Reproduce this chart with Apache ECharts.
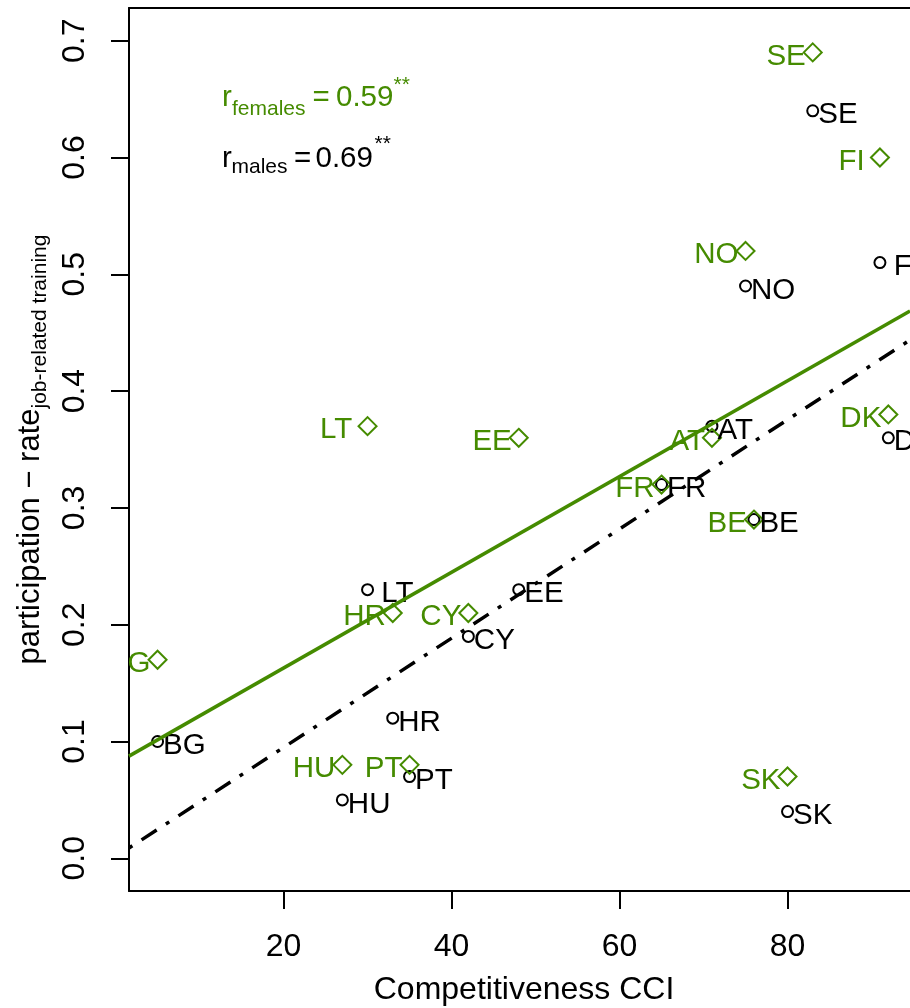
<!DOCTYPE html>
<html>
<head>
<meta charset="utf-8">
<script src="https://cdn.jsdelivr.net/npm/echarts@6/dist/echarts.min.js"></script>
<style>
html,body{margin:0;padding:0;background:#fff}
#c{width:910px;height:1008px}
</style>
</head>
<body>
<div id="c"></div>
<script>
// ---- data ----
const countries = ['SE', ' FI ', 'NO', 'AT', 'DK', 'FR', 'BE', ' LT ', 'EE', 'CY', 'HR', 'BG', 'HU', 'PT', 'SK'];
const cci       = [83, 91, 75, 71, 92, 65, 76, 30, 48, 42, 33, 5, 27, 35, 80];
const males     = [0.64, 0.51, 0.49, 0.37, 0.36, 0.32, 0.29, 0.23, 0.23, 0.19, 0.12, 0.10, 0.05, 0.07, 0.04];
const females   = [0.69, 0.60, 0.52, 0.36, 0.38, 0.32, 0.29, 0.37, 0.36, 0.21, 0.21, 0.17, 0.08, 0.08, 0.07];
const xTicks = [20, 40, 60, 80];
const yTicks = [0.0, 0.1, 0.2, 0.3, 0.4, 0.5, 0.6, 0.7];
const xRange = [1.6, 94.58];
const yRange = [-0.028, 0.728];
const rFemales = '0.59';
const rMales = '0.69';

const GREEN = '#458B00';
const FONT = '"Liberation Sans", Arial, Helvetica, sans-serif';
const FS = 29.5;   // point labels / annotations
const FA = 32;     // axis text

function ols(xs, ys) {
  const n = xs.length;
  let mx = 0, my = 0;
  for (let i = 0; i < n; i++) { mx += xs[i]; my += ys[i]; }
  mx /= n; my /= n;
  let sxy = 0, sxx = 0;
  for (let i = 0; i < n; i++) { sxy += (xs[i] - mx) * (ys[i] - my); sxx += (xs[i] - mx) * (xs[i] - mx); }
  const b = sxy / sxx;
  return [my - b * mx, b];
}
function fitLine(ys) {
  const [a, b] = ols(cci, ys);
  return xRange.map(x => [x, a + b * x]);
}

function textWidth(t, size) {
  const ctx = document.createElement('canvas').getContext('2d');
  ctx.font = size + 'px ' + FONT;
  return ctx.measureText(t).width;
}

const mainLab = 'participation \u2212 rate';
const subLab = 'job-related training';
const FY = 31, FYS = 21;
const w1 = textWidth(mainLab, FY);
const w2 = textWidth(subLab, FYS);
const yStart = 449.5 + (w1 + w2) / 2;

const chart = echarts.init(document.getElementById('c'), null, {renderer: 'canvas'});
chart.setOption({
  animation: false,
  backgroundColor: '#fff',
  grid: {left: 129, right: 0, top: 8, bottom: 117, outerBoundsMode: 'none'},
  xAxis: [{
    type: 'value', min: xRange[0], max: xRange[1],
    splitLine: {show: false},
    axisLine: {show: true, onZero: false, lineStyle: {color: '#000', width: 2}},
    axisTick: {show: true, length: 18, customValues: xTicks, lineStyle: {color: '#000', width: 2}},
    axisLabel: {show: true, customValues: xTicks, margin: 40, color: '#000', fontSize: FA, fontFamily: FONT,
      formatter: v => String(v)}
  }, {
    type: 'value', position: 'top', min: xRange[0], max: xRange[1],
    splitLine: {show: false},
    axisLine: {show: true, onZero: false, lineStyle: {color: '#000', width: 2}},
    axisTick: {show: false}, axisLabel: {show: false}
  }],
  yAxis: {
    type: 'value', min: yRange[0], max: yRange[1],
    splitLine: {show: false},
    axisLine: {show: true, onZero: false, lineStyle: {color: '#000', width: 2}},
    axisTick: {show: true, length: 18, customValues: yTicks, lineStyle: {color: '#000', width: 2}},
    axisLabel: {show: true, customValues: yTicks, rotate: 90, margin: 38, color: '#000', fontSize: FA, fontFamily: FONT,
      formatter: v => v.toFixed(1)}
  },
  series: [
    {
      type: 'scatter', name: 'males', silent: true,
      data: cci.map((x, i) => ({value: [x, males[i]], name: countries[i]})),
      symbol: 'circle', symbolSize: 11,
      itemStyle: {color: 'rgba(0,0,0,0)', borderColor: '#000', borderWidth: 2, opacity: 1},
      label: {show: true, position: 'right', distance: 0, offset: [-1, 4.5], formatter: p => p.name,
        color: '#000', opacity: 1, fontSize: FS, fontFamily: FONT},
      z: 3
    },
    {
      type: 'scatter', name: 'females', silent: true,
      data: cci.map((x, i) => ({value: [x, females[i]], name: countries[i]})),
      symbol: 'diamond', symbolSize: 18,
      itemStyle: {color: 'rgba(0,0,0,0)', borderColor: GREEN, borderWidth: 2, opacity: 1},
      label: {show: true, position: 'left', distance: 0, offset: [3, 4.2], formatter: p => p.name,
        color: GREEN, opacity: 1, fontSize: FS, fontFamily: FONT},
      z: 3
    },
    {
      type: 'line', name: 'fit females', silent: true, showSymbol: false, symbol: 'none',
      data: fitLine(females),
      lineStyle: {color: GREEN, width: 3.5, type: 'solid'},
      z: 4
    },
    {
      type: 'line', name: 'fit males', silent: true, showSymbol: false, symbol: 'none',
      data: fitLine(males),
      lineStyle: {color: '#000', width: 3.5, type: [4, 11, 18, 11], cap: 'butt'},
      z: 4
    }
  ],
  graphic: [
    // mask to clip a label outside the plot region
    {type: 'rect', z: 100, shape: {x: 90, y: 644, width: 37.5, height: 32}, style: {fill: '#fff'}},
    // y-axis title
    {type: 'text', z: 100, x: 30, y: yStart, rotation: Math.PI / 2,
      style: {text: mainLab, font: FY + 'px ' + FONT, fill: '#000', align: 'left', verticalAlign: 'middle'}},
    {type: 'text', z: 100, x: 40, y: yStart - w1, rotation: Math.PI / 2,
      style: {text: subLab, font: FYS + 'px ' + FONT, fill: '#000', align: 'left', verticalAlign: 'middle'}},
    // x-axis title
    {type: 'text', z: 100, x: 524, y: 990,
      style: {text: 'Competitiveness CCI', font: FA + 'px ' + FONT, fill: '#000', align: 'center', verticalAlign: 'middle'}},
    // correlation annotations
    {type: 'text', z: 100, x: 222, y: 97.8, style: {text: 'r', font: FS + 'px ' + FONT, fill: GREEN, align: 'left', verticalAlign: 'middle'}},
    {type: 'text', z: 100, x: 232, y: 109.7, style: {text: 'females', font: '21px ' + FONT, fill: GREEN, align: 'left', verticalAlign: 'middle'}},
    {type: 'text', z: 100, x: 312.5, y: 97.8, style: {text: '=', font: FS + 'px ' + FONT, fill: GREEN, align: 'left', verticalAlign: 'middle'}},
    {type: 'text', z: 100, x: 336, y: 97.8, style: {text: rFemales, font: FS + 'px ' + FONT, fill: GREEN, align: 'left', verticalAlign: 'middle'}},
    {type: 'text', z: 100, x: 393.5, y: 85.7, style: {text: '**', font: '21px ' + FONT, fill: GREEN, align: 'left', verticalAlign: 'middle'}},
    {type: 'text', z: 100, x: 222, y: 158.8, style: {text: 'r', font: FS + 'px ' + FONT, fill: '#000', align: 'left', verticalAlign: 'middle'}},
    {type: 'text', z: 100, x: 231.5, y: 167.7, style: {text: 'males', font: '21px ' + FONT, fill: '#000', align: 'left', verticalAlign: 'middle'}},
    {type: 'text', z: 100, x: 294, y: 158.8, style: {text: '=', font: FS + 'px ' + FONT, fill: '#000', align: 'left', verticalAlign: 'middle'}},
    {type: 'text', z: 100, x: 315.5, y: 158.8, style: {text: rMales, font: FS + 'px ' + FONT, fill: '#000', align: 'left', verticalAlign: 'middle'}},
    {type: 'text', z: 100, x: 374.5, y: 144.7, style: {text: '**', font: '21px ' + FONT, fill: '#000', align: 'left', verticalAlign: 'middle'}}
  ]
});
</script>
</body>
</html>
